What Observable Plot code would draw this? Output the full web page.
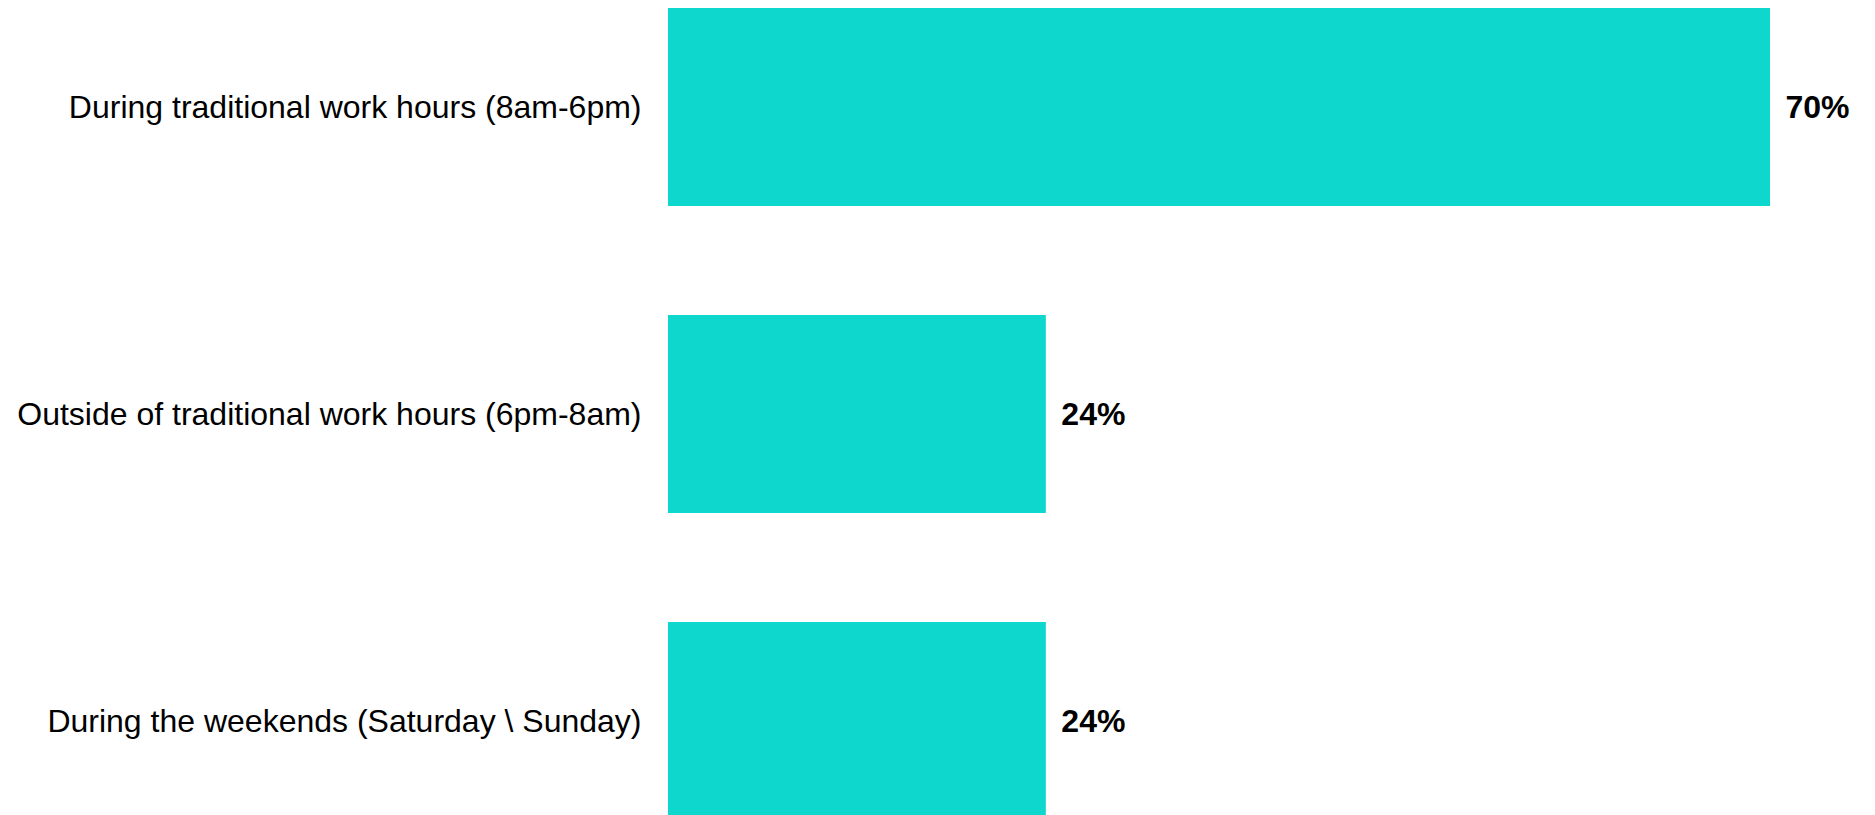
<!DOCTYPE html>
<html>
<head>
<meta charset="utf-8">
<script src="https://cdn.jsdelivr.net/npm/d3@7"></script>
<script src="https://cdn.jsdelivr.net/npm/@observablehq/plot@0.6"></script>
<style>
  html, body { margin: 0; padding: 0; background: #fff; overflow: hidden; }
  #chart svg { display: block; }
</style>
</head>
<body>
<div id="chart"></div>
<script>
const categories = [
  "During traditional work hours (8am-6pm)",
  "Outside of traditional work hours (6pm-8am)",
  "During the weekends (Saturday \\ Sunday)"
];
const values = [70, 24, 24];
const valueLabels = ["70%", "24%", "24%"];

const data = categories.map((c, i) => ({category: c, value: values[i], label: valueLabels[i]}));

const chart = Plot.plot({
  width: 1875,
  height: 820,
  marginLeft: 668,
  marginRight: 105,
  marginTop: 7,
  marginBottom: 0,
  style: {fontFamily: "'Liberation Sans', Arial, sans-serif", fontSize: "32px", color: "#000", background: "#fff"},
  x: {domain: [0, 70], axis: null},
  y: {domain: categories, padding: 0.356, paddingOuter: 0, label: null, tickSize: 0, tickPadding: 27},
  marks: [
    Plot.barX(data, {x: "value", y: "category", fill: "#0ED7CD"}),
    Plot.text(data, {x: "value", y: "category", text: "label", textAnchor: "start", dx: 15,
      fontWeight: "bold", fontSize: 32, fill: "#000"}),
    Plot.axisY({tickSize: 0, tickPadding: 27, fontSize: 32, label: null, color: "#000"})
  ]
});
document.getElementById("chart").appendChild(chart);
</script>
</body>
</html>
